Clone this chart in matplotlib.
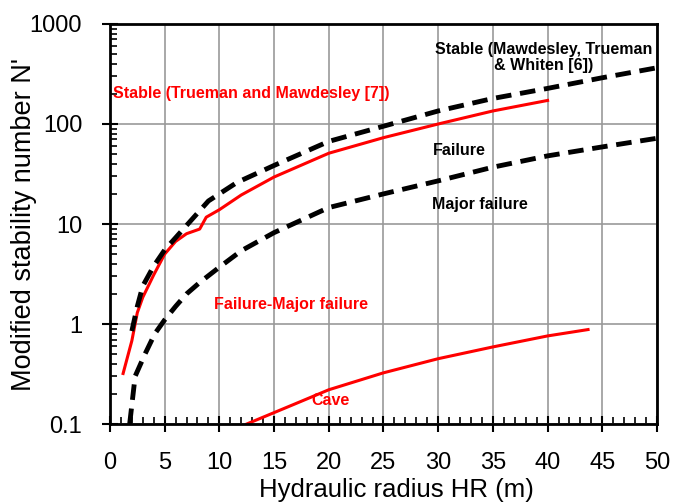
import numpy as np
import matplotlib.pyplot as plt
from matplotlib.ticker import FixedLocator, LogLocator, NullFormatter

plt.rcParams['font.family'] = ['Liberation Sans', 'DejaVu Sans']

# red solid: Stable (Trueman and Mawdesley [7])
hr_tm = [1.2, 2, 2.5, 3, 4, 5, 6, 7, 8.2, 8.8, 10, 12, 15, 20, 25, 30, 35, 40]
n_tm = [0.32, 0.68, 1.3, 1.85, 3.1, 5.0, 6.7, 8.0, 8.9, 11.7, 13.9, 19.5, 29.5, 51, 73, 100, 135, 172]

# black dashed: Stable (Mawdesley, Trueman & Whiten [6])
hr_mtw = [2, 2.5, 3, 4, 5, 6.5, 9, 11.6, 15, 20, 25, 30, 35, 40, 45, 50]
n_mtw = [0.85, 1.5, 2.4, 3.8, 5.5, 8.4, 17, 26, 38.5, 67, 95, 135, 180, 227, 290, 365]

# black dashed: Failure / Major failure boundary
hr_fail = [1.8, 2.3, 3.2, 4.1, 5, 6, 7, 8.2, 10, 12, 15, 20, 25, 30, 35, 40, 45, 50]
n_fail = [0.1, 0.3, 0.5, 0.8, 1.1, 1.5, 2.0, 2.6, 3.7, 5.4, 8.2, 14.6, 20, 27, 37, 48, 59, 72]

# red solid: Cave
hr_cave = [12.5, 15, 16.8, 20, 25, 30, 35, 40, 43.7]
n_cave = [0.1, 0.13, 0.157, 0.22, 0.325, 0.45, 0.59, 0.76, 0.88]

fig = plt.figure(figsize=(6.73, 5.04), dpi=100)
ax = fig.add_axes([0.1634, 0.1587, 0.8128, 0.7937])

ax.plot(hr_tm, n_tm, color='#ff0000', lw=2.2)
ax.plot(hr_cave, n_cave, color='#ff0000', lw=2.2)
ax.plot(hr_mtw, n_mtw, color='black', lw=3.5, linestyle=(0, (3.2, 1.8)))
ax.plot(hr_fail, n_fail, color='black', lw=3.5, linestyle=(0, (3.2, 1.8)))

ax.set_yscale('log')
ax.set_xlim(0, 50)
ax.set_ylim(0.1, 1000)
ax.set_xticks(np.arange(0, 51, 5))
ax.xaxis.set_minor_locator(FixedLocator(np.arange(0, 51, 1)))
ax.set_yticks([0.1, 1, 10, 100, 1000])
ax.set_yticklabels(['0.1', '1', '10', '100', '1000'])
ax.yaxis.set_minor_locator(LogLocator(base=10, subs=np.arange(2, 10)))
ax.yaxis.set_minor_formatter(NullFormatter())

ax.grid(True, which='major', color='#999999', lw=1.2)
ax.tick_params(which='major', direction='inout', length=12, width=1.5, labelsize=17)
ax.tick_params(which='minor', direction='in', length=5, width=1.2)
ax.tick_params(axis='x', pad=14)
ax.tick_params(axis='y', pad=14)
for s in ax.spines.values():
    s.set_linewidth(2)

ax.set_xlabel('Hydraulic radius HR (m)', fontsize=18.5)
ax.xaxis.set_label_coords(0.523, -0.135)
ax.set_ylabel("Modified stability number N'", fontsize=19.5, labelpad=-5)

fs = 11.5
ax.text(0.3, 204, 'Stable (Trueman and Mawdesley [7])', color='#ff0000',
        fontsize=fs, fontweight='bold', va='center', ha='left')
ax.text(39.6, 460, 'Stable (Mawdesley, Trueman\n& Whiten [6])', color='black',
        fontsize=fs, fontweight='bold', va='center', ha='center', linespacing=1.05)
ax.text(29.5, 54, 'Failure', fontsize=fs, fontweight='bold', va='center', ha='left')
ax.text(29.4, 15.5, 'Major failure', fontsize=fs, fontweight='bold', va='center', ha='left')
ax.text(9.5, 1.58, 'Failure-Major failure', color='#ff0000', fontsize=fs,
        fontweight='bold', va='center', ha='left')
ax.text(20.2, 0.17, 'Cave', color='#ff0000', fontsize=fs, fontweight='bold',
        va='center', ha='center')

fig.savefig('out.png', dpi=100)
